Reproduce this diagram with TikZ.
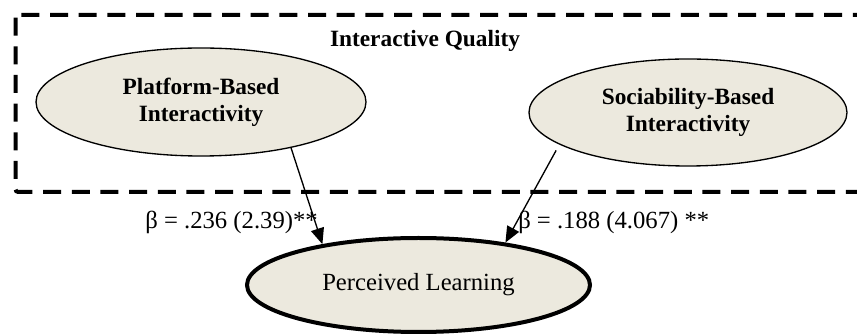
\documentclass[tikz,border=0pt]{standalone}
\usepackage{fontspec}
\setmainfont{Liberation Serif}
\usetikzlibrary{shapes.geometric,arrows.meta}
\definecolor{latentfill}{RGB}{236,233,222}

\begin{document}
\begin{tikzpicture}[
  x=0.75pt, y=-0.75pt,
  latent/.style={
    ellipse,
    draw=black,
    line width=1pt,
    fill=latentfill,
    align=center,
    inner sep=0pt,
    font=\fontsize{17.5}{20}\selectfont\bfseries
  },
  outcome/.style={
    latent,
    line width=3pt,
    font=\fontsize{18.5}{21}\selectfont
  },
  group/.style={
    draw=black,
    line width=3pt,
    dash pattern=on 13.5pt off 8pt,
    rounded corners=2pt
  },
  coef/.style={inner sep=0pt, font=\fontsize{18.5}{21}\selectfont},
  arrow/.style={-{Triangle[length=12pt,width=10pt]}, line width=1pt, draw=black}
]
\useasboundingbox (0,0) rectangle (857,334);

% Cadre en pointillés (coupé à droite)
\begin{scope}
\clip (0,0) rectangle (857,334);
\draw[group] (15.5,15) rectangle (900,192);
\end{scope}
\node[inner sep=0pt, font=\fontsize{17.5}{20}\selectfont\bfseries] (title) at (425,41) {Interactive Quality};

% Variables latentes
\node[latent, minimum width=330*0.75pt, minimum height=108*0.75pt] (plat) at (201,102) {Platform-Based\\Interactivity};
\node[latent, minimum width=318*0.75pt, minimum height=107*0.75pt] (soc) at (688,112.5) {Sociability-Based\\Interactivity};
\node[outcome, minimum width=343*0.75pt, minimum height=94*0.75pt] (learn) at (418.5,285) {Perceived Learning};

% Flèches
\draw[arrow] (plat.-27) -- (learn.157);
\draw[arrow, shorten <=5pt] (soc.-166.5) -- (learn.26);

% Coefficients
\node[coef, anchor=east] (b1) at (318,222) {β = .236 (2.39)**};
\node[coef, anchor=west] (b2) at (518,222) {β = .188 (4.067) **};
\end{tikzpicture}
\end{document}
